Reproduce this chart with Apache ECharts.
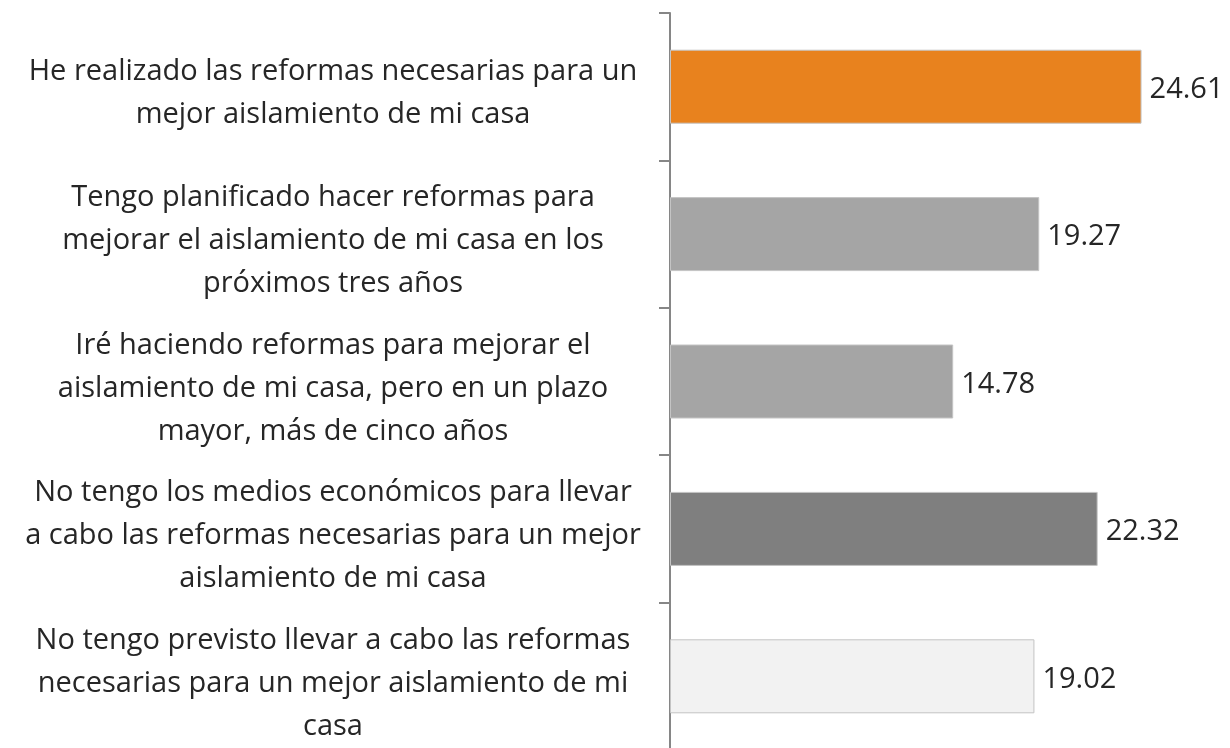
<!DOCTYPE html>
<html>
<head>
<meta charset="utf-8">
<script src="https://cdn.jsdelivr.net/npm/echarts@6/dist/echarts.min.js"></script>
<style>
  html, body { margin: 0; padding: 0; background: #fff; }
  #main { width: 1230px; height: 748px; }
</style>
</head>
<body>
<div id="main"></div>
<script>
const categories = [
  'He realizado las reformas necesarias para un\nmejor aislamiento de mi casa',
  'Tengo planificado hacer reformas para\nmejorar el aislamiento de mi casa en los\npróximos tres años',
  'Iré haciendo reformas para mejorar el\naislamiento de mi casa, pero en un plazo\nmayor, más de cinco años',
  'No tengo los medios económicos para llevar\na cabo las reformas necesarias para un mejor\naislamiento de mi casa',
  'No tengo previsto llevar a cabo las reformas\nnecesarias para un mejor aislamiento de mi\ncasa'
];
const values = [24.61, 19.27, 14.78, 22.32, 19.02];
const barColors = ['#E8821E', '#A5A5A5', '#A5A5A5', '#7F7F7F', '#F2F2F2'];

const font = '"Open Sans", sans-serif';

const chart = echarts.init(document.getElementById('main'));
chart.setOption({
  animation: false,
  // grid 0: bars + axis line; grid 1: same bands, a few px lower, only for the labels
  grid: [
    { left: 670, top: 13, width: 536.5, height: 737, outerBoundsMode: 'none' },
    { left: 670, top: 20, width: 536.5, height: 737, outerBoundsMode: 'none' }
  ],
  xAxis: [
    { type: 'value', min: 0, max: 28, show: false, gridIndex: 0 },
    { type: 'value', min: 0, max: 28, show: false, gridIndex: 1 }
  ],
  yAxis: [{
    type: 'category',
    gridIndex: 0,
    data: categories,
    inverse: true,
    axisLine: { show: true, lineStyle: { color: '#868686', width: 2 } },
    axisTick: { show: true, length: 11, lineStyle: { color: '#868686', width: 2 } },
    axisLabel: { show: false }
  }, {
    type: 'category',
    gridIndex: 1,
    data: categories,
    inverse: true,
    axisLine: { show: false },
    axisTick: { show: false },
    axisLabel: {
      margin: 337,
      align: 'center',
      color: '#262626',
      fontSize: 29,
      fontFamily: font,
      lineHeight: 43
    }
  }],
  series: [{
    type: 'bar',
    xAxisIndex: 0,
    yAxisIndex: 0,
    barWidth: 74,
    data: values.map((v, i) => ({
      value: v,
      itemStyle: { color: barColors[i], borderColor: '#C4C4C4', borderWidth: 1 }
    })),
    label: {
      show: true,
      position: 'right',
      distance: 8,
      offset: [0, 3],
      color: '#262626',
      fontSize: 29,
      fontFamily: font,
      formatter: p => p.value.toFixed(2)
    }
  }]
});
</script>
</body>
</html>
